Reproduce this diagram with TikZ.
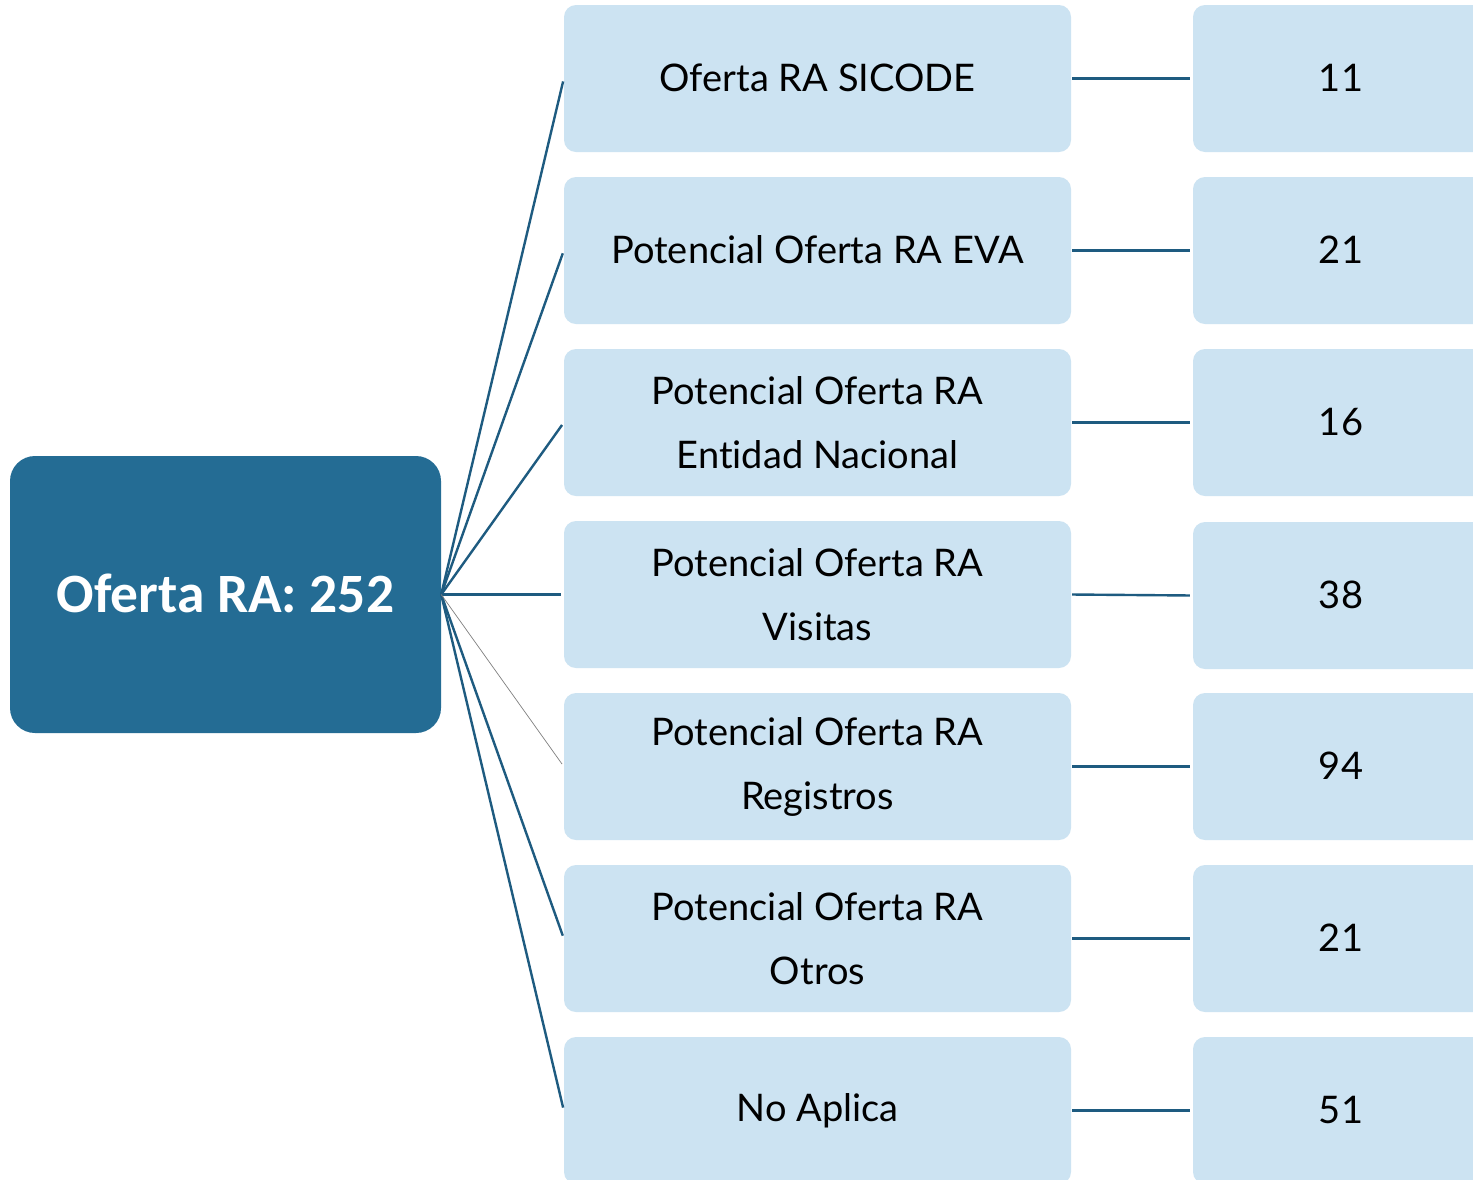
\documentclass[tikz,border=0pt]{standalone}
\usepackage{fontspec}
\setmainfont{Lato}[Ligatures={NoCommon}]
\newfontfamily\titlefont{Carlito}
\definecolor{mainblue}{HTML}{246C94}
\definecolor{lightbox}{HTML}{CCE3F2}
\definecolor{linkblue}{HTML}{1E5B80}
\tikzset{
  mainbox/.style={fill=mainblue, draw=none, rounded corners=25pt, minimum width=431pt, minimum height=277pt, inner sep=0pt, text=white, font=\titlefont\bfseries\fontsize{55.5}{60}\selectfont},
  midbox/.style={fill=lightbox, draw=none, rounded corners=12pt, minimum width=507pt, minimum height=147pt, inner sep=0pt, align=center, font=\fontsize{38}{64}\selectfont},
  numbox/.style={fill=lightbox, draw=none, rounded corners=12pt, minimum width=296pt, minimum height=147pt, inner sep=0pt, font=\fontsize{38}{64}\selectfont},
  link/.style={draw=linkblue, line width=2.4pt},
  thinlink/.style={draw=gray, line width=0.7pt},
}
\begin{document}
\begin{tikzpicture}[x=1pt,y=-1pt]
\useasboundingbox (0,0) rectangle (1473,1179);
\clip (0,0) rectangle (1473,1179);
\fill[white] (0,0) rectangle (1473,1179);
\node[mainbox] (main) at (225.5,594.5) {\raisebox{3pt}{Oferta RA: 252}};
\node[midbox] (m1) at (817.5,78.5) {\raisebox{2pt}{Oferta RA SICODE}};
\node[midbox] (m2) at (817.5,250.5) {\raisebox{2pt}{Potencial Oferta RA EVA}};
\node[midbox] (m3) at (817.5,422.5) {Potencial Oferta RA\\Entidad Nacional};
\node[midbox] (m4) at (817.5,594.5) {Potencial Oferta RA\\Visitas};
\node[midbox] (m5) at (817.5,766.5) {Potencial Oferta RA\\Registros};
\node[midbox] (m6) at (817.5,938.5) {Potencial Oferta RA\\Otros};
\node[midbox] (m7) at (817.5,1110.5) {\raisebox{2pt}{No Aplica}};
\node[numbox] (n1) at (1341,78.5) {\raisebox{2pt}{11}};
\node[numbox] (n2) at (1341,250.5) {\raisebox{2pt}{21}};
\node[numbox] (n3) at (1341,422.5) {\raisebox{2pt}{16}};
\node[numbox] (n4) at (1341,595.5) {\raisebox{2pt}{38}};
\node[numbox] (n5) at (1341,766.5) {\raisebox{2pt}{94}};
\node[numbox] (n6) at (1341,938.5) {\raisebox{2pt}{21}};
\node[numbox] (n7) at (1341,1110.5) {\raisebox{2pt}{51}};
\foreach \i in {1,2,3,4,6,7}{
  \draw[link, shorten >=3pt] (main.east) -- (m\i.west);
}
\draw[thinlink, shorten >=3pt] (main.east) -- (m5.west);
\foreach \i in {1,...,7}{
  \draw[link, shorten <=1pt, shorten >=3pt] (m\i.east) -- (n\i.west);
}
\end{tikzpicture}
\end{document}
